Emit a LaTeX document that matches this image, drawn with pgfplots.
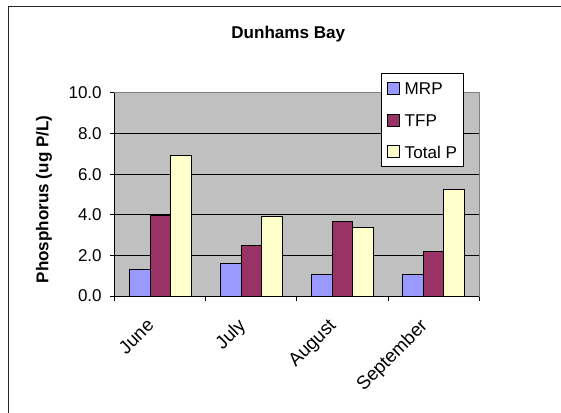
\documentclass[border=0pt]{standalone}
\usepackage{fontspec}
\setmainfont{Liberation Sans}
\usepackage{pgfplots}
\pgfplotsset{compat=1.18}

\definecolor{mrp}{HTML}{9999FF}
\definecolor{tfp}{HTML}{993366}
\definecolor{totp}{HTML}{FFFFCC}
\definecolor{plotbg}{HTML}{C0C0C0}
\definecolor{plotedge}{HTML}{808080}

\newcommand{\chartfont}{\fontsize{12.8}{15}\selectfont}

\begin{document}
\begin{tikzpicture}
% page area
\path[use as bounding box] (0,0) rectangle (420.75pt,-309.75pt);
% chart area frame (left and top edges)
\draw[line width=0.75pt, black!85] (6pt,-340pt) -- (6pt,-5.25pt) -- (440pt,-5.25pt);

% title
\node[anchor=base, font=\bfseries\chartfont] at (216.2pt,-28.7pt) {Dunhams Bay};
% y axis title
\node[rotate=90, font=\bfseries\chartfont] at (33pt,-149.6pt) {Phosphorus (ug P/L)};

\begin{axis}[
  at={(86.25pt,-222pt)}, anchor=south west,
  scale only axis, width=273pt, height=152.25pt,
  ybar=0pt, bar width=15.25pt,
  xmin=-0.5, xmax=3.5, ymin=0, ymax=10,
  xtick={-0.5,0.5,1.5,2.5,3.5}, xticklabels={,,,,},
  extra x ticks={0,1,2,3},
  extra x tick labels={June,July,August,September},
  extra x tick style={
    major tick length=0pt,
    xticklabel style={xshift=-11pt, yshift=-15.8pt, rotate=45,
      anchor=north east, inner sep=0pt, font=\fontsize{14}{16}\selectfont}},
  ytick={0,2,...,10},
  /pgf/number format/assume math mode=true,
  yticklabel style={/pgf/number format/fixed,
    /pgf/number format/fixed zerofill,
    /pgf/number format/precision=1,
    inner sep=0pt, xshift=-6pt},
  tick label style={font=\chartfont},
  tick align=outside, major tick length=3.75pt,
  tick pos=left,
  tick style={black, line width=0.75pt},
  axis background/.style={fill=plotbg},
  axis line style={plotedge, line width=0.75pt},
  ymajorgrids, grid style={black, line width=0.75pt},
  legend style={at={(0.959,1.1)}, anchor=north east,
    draw=black, fill=white, line width=0.75pt,
    inner xsep=4pt, inner ysep=5.5pt, row sep=12.4pt, column sep=2.5pt,
    font=\chartfont,
    nodes={inner sep=1pt, text height=9.5pt, text depth=0pt}},
  legend cell align=left,
  legend image code/.code={\draw[#1, line width=0.75pt] (0pt,-4.5pt) rectangle (9pt,4.5pt);},
  after end axis/.code={
    \draw[black, line width=0.75pt] (rel axis cs:0,1) -- (rel axis cs:0,0) -- (rel axis cs:1,0);
  },
]
\addplot[fill=mrp, draw=black, line width=0.75pt]
  coordinates {(0,1.33) (1,1.59) (2,1.08) (3,1.07)};
\addplot[fill=tfp, draw=black, line width=0.75pt]
  coordinates {(0,3.99) (1,2.51) (2,3.66) (3,2.17)};
\addplot[fill=totp, draw=black, line width=0.75pt]
  coordinates {(0,6.91) (1,3.93) (2,3.35) (3,5.26)};
\legend{MRP,TFP,Total P}
\end{axis}
\end{tikzpicture}
\end{document}
